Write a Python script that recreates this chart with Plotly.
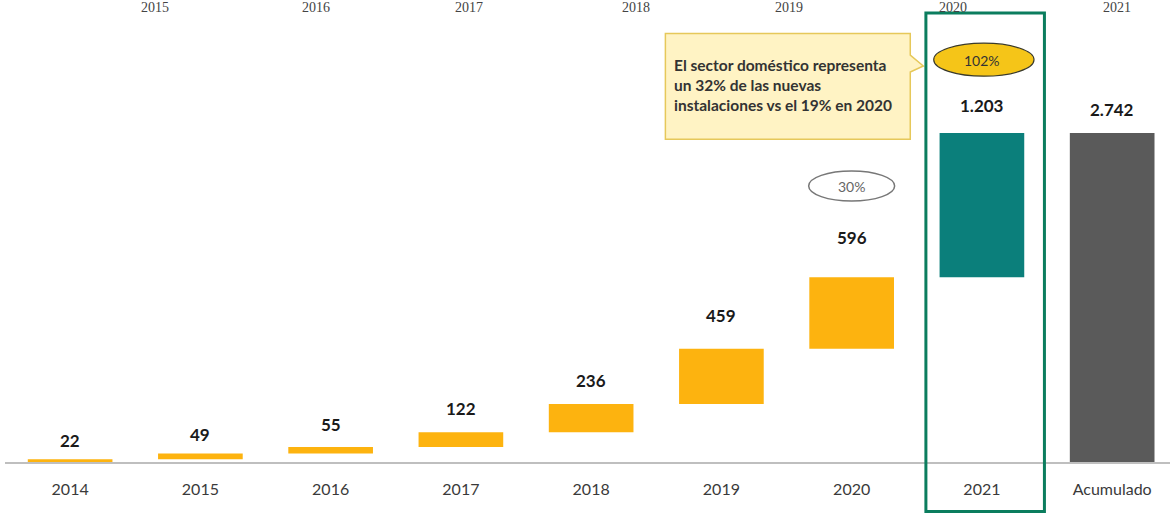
import numpy as np
import plotly.graph_objects as go

# ---- data ----
categories = ["2014", "2015", "2016", "2017", "2018", "2019", "2020", "2021", "Acumulado"]
yearly_values = [22, 49, 55, 122, 236, 459, 596, 1203]
top_strip_labels = ["2015", "2016", "2017", "2018", "2019", "2020", "2021"]
callout_lines = ["El sector doméstico representa", "un 32% de las nuevas", "instalaciones vs el 19% en 2020"]
growth_2021 = "102%"
growth_2020 = "30%"

# ---- derived ----
vals = yearly_values + [sum(yearly_values)]
bases = list(np.concatenate([[0], np.cumsum(yearly_values)[:-1]])) + [0]

# ---- styles ----
bar_colors = ["#FDB30F"] * 7 + ["#0B7F7B", "#5A5A5A"]
label_offsets_px = [19, 19, 22, 24, 23, 33, 40, 27, 23]
strip_x_px = [140, 302, 472, 640, 810, 975, 1140]

def fmt(v):
    return f"{v:,}".replace(",", ".")

FONT = "Lato, 'Open Sans', sans-serif"

fig = go.Figure()
fig.add_trace(go.Bar(
    x=categories, y=vals, base=bases,
    marker=dict(color=bar_colors, line=dict(width=0)),
    width=0.65, hoverinfo="skip", showlegend=False,
))

annotations = []
for i, (v, b) in enumerate(zip(vals, bases)):
    annotations.append(dict(xref="x", yref="y", x=i, y=v + b, text=f"<b>{fmt(v)}</b>",
                            showarrow=False, yanchor="middle", yshift=label_offsets_px[i],
                            font=dict(family=FONT, size=17, color="#1a1a1a")))

# top strip (labels of a neighbouring chart, at the very top edge)
for lbl, px in zip(top_strip_labels, strip_x_px):
    annotations.append(dict(xref="paper", yref="paper", x=(px - 5) / 1172, y=1.0, yshift=5,
                            text=lbl, showarrow=False, yanchor="middle",
                            font=dict(family="Liberation Serif, serif", size=14, color="#444444")))

# callout text
annotations.append(dict(xref="x", yref="y", x=4.62, y=3145, xanchor="left", yanchor="middle",
                        text="<br>".join(f"<b>{l}</b>" for l in callout_lines), align="left",
                        showarrow=False,
                        font=dict(family=FONT, size=15.5, color="#333333")))
annotations.append(dict(x=7, y=3350, text=growth_2021, showarrow=False,
                        font=dict(family=FONT, size=14, color="#333333")))
annotations.append(dict(x=6, y=2300, text=growth_2020, showarrow=False,
                        font=dict(family=FONT, size=14, color="#666666")))

shapes = [
    # callout box with pointer
    dict(type="path", xref="x", yref="y",
         path="M 4.57,3570 L 6.45,3570 L 6.45,3390 L 6.55,3300 L 6.45,3250 L 6.45,2690 L 4.57,2690 Z",
         fillcolor="#FFF3C4", line=dict(color="#E6C85A", width=1.5), layer="above"),
    # 102% ellipse
    dict(type="circle", xref="x", yref="y", x0=6.63, x1=7.4, y0=3215, y1=3490,
         fillcolor="#F5C518", line=dict(color="#3a3a2a", width=1.2)),
    # 30% ellipse
    dict(type="circle", xref="x", yref="y", x0=5.67, x1=6.33, y0=2175, y1=2425,
         fillcolor="white", line=dict(color="#777777", width=1.5)),
    # green highlight box around 2021
    dict(type="rect", xref="x", yref="paper", x0=6.57, x1=7.48, y0=-0.11, y1=0.998,
         line=dict(color="#0B7D5E", width=3), fillcolor="rgba(0,0,0,0)"),
]

fig.update_layout(
    width=1170, height=514,
    margin=dict(l=5, r=0, t=12, b=52),
    paper_bgcolor="white", plot_bgcolor="white",
    xaxis=dict(type="category", range=[-0.5, 8.444], showgrid=False, zeroline=False,
               showline=True, linecolor="#BFBFBF", linewidth=1.5, ticks="",
               ticklabelstandoff=12,
               tickfont=dict(family=FONT, size=16, color="#3a3a3a")),
    yaxis=dict(range=[0, 3750], visible=False, showgrid=False, zeroline=False),
    annotations=annotations, shapes=shapes,
    showlegend=False,
)

fig.write_html("out.html", config={"displayModeBar": False},
               post_script="document.body.style.margin='0';document.body.style.padding='0';")
